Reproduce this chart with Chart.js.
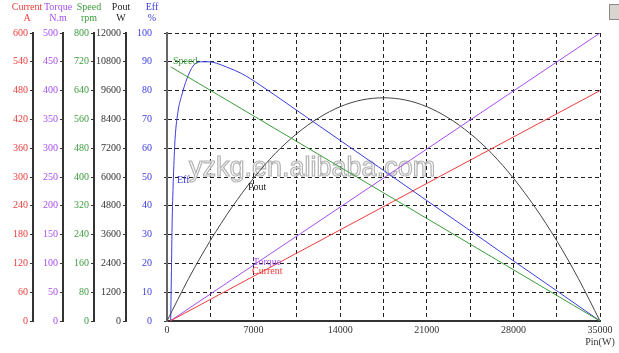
<!DOCTYPE html>
<html>
<head>
<meta charset="utf-8">
<script src="https://cdn.jsdelivr.net/npm/chart.js@4.4.1/dist/chart.umd.min.js"></script>
<style>
  body { margin: 0; background: #fff; }
  #box { width: 619px; height: 353px; position: relative; }
</style>
</head>
<body>
<div id="box"><canvas id="motorChart"></canvas></div>
<script>
// input power (x axis)
const pinMax = 35000;
const pinStep = 3500;

// straight lines: current, torque, speed
const linePin = [250, 35000];
const currentA = [0, 480];
const torqueNm = [0, 500];
const speedPin = [300, 35000];
const speedRpm = [706, 0];

// output power curve
const poutPin = [0, 1750, 3500, 5250, 7000, 8750, 10500, 12250, 14000, 15750, 17500,
    19250, 21000, 22750, 24500, 26250, 28000, 29750, 31500, 33250, 35000];
const poutW = [0, 1770, 3350, 4740, 5950, 6980, 7810, 8460, 8930, 9210, 9300,
    9210, 8930, 8460, 7810, 6980, 5950, 4740, 3350, 1770, 0];

// efficiency curve
const effPin = [300, 350, 420, 520, 650, 900, 1200, 1600, 2100, 2700, 3400, 4000, 4800,
    6000, 7500, 10000, 14000, 17500, 21000, 24500, 28000, 31500, 35000];
const effPct = [0, 15, 35, 50, 63, 73, 78.5, 84, 88.5, 90, 90, 89.5, 88.2,
    86, 82, 74.6, 62.7, 52.3, 41.8, 31.4, 20.9, 10.5, 0];

// y axis ranges (max, step)
const currentAxis = [600, 60];
const torqueAxis = [500, 50];
const speedAxis = [800, 80];
const poutAxis = [12000, 1200];
const effAxis = [100, 10];

const RED = "#ee3b3b", PURPLE = "#a64ef0", GREEN = "#3c9c3c", DARK = "#333333", BLUE = "#3c3ce0";
const SERIF = "'Liberation Serif', 'Times New Roman', serif";

const pts = (xs, ys) => xs.map((x, i) => ({ x: x, y: ys[i] }));

// side axis helper, width fixed so the stacked axes line up
function sideAxis(range, color, width, weight) {
    return {
        type: "linear",
        position: "left",
        weight: weight,
        min: 0,
        max: range[0],
        afterFit: (s) => { s.width = width; },
        ticks: {
            stepSize: range[1],
            color: color,
            padding: 2,
            font: { family: SERIF, size: 10 },
            callback: (v) => String(v),
        },
        grid: { drawOnChartArea: false, tickLength: 3, color: DARK, tickWidth: 1 },
        border: { display: true, color: DARK, width: 2 },
    };
}

const headers = [
    ["yCur", "Current", "A", RED, -6],
    ["yTor", "Torque", "N.m", PURPLE, -5],
    ["ySpd", "Speed", "rpm", GREEN, -5],
    ["yPout", "Pout", "W", "#222", -5],
    ["yEff", "Eff", "%", BLUE, -15],
];

// curve name tags, placed in (Pin, Eff%) coordinates
const tags = [
    ["Speed", 485, 90, GREEN],
    ["Eff", 808, 49, BLUE],
    ["Pout", 6550, 46.5, "#222"],
    ["Torque", 6950, 20.5, PURPLE],
    ["Current", 6870, 17.3, RED],
];

const decor = {
    id: "decor",
    beforeDatasetsDraw(chart) {
        const ctx = chart.ctx;
        ctx.save();
        ctx.font = "27px Arial, 'Liberation Sans', sans-serif";
        ctx.textBaseline = "alphabetic";
        ctx.fillStyle = "rgba(255,255,255,0.8)";
        ctx.strokeStyle = "#b4b4b4";
        ctx.lineWidth = 1.2;
        ctx.fillText("yzkg.en.alibaba.com", 189, 176);
        ctx.strokeText("yzkg.en.alibaba.com", 189, 176);
        ctx.restore();
    },
    afterDraw(chart) {
        const ctx = chart.ctx;
        ctx.save();
        ctx.font = "10px " + SERIF;
        ctx.textAlign = "center";
        ctx.textBaseline = "middle";
        headers.forEach(([id, a, b, color, dx]) => {
            const s = chart.scales[id];
            ctx.fillStyle = color;
            ctx.fillText(a, s.right + dx, 7);
            ctx.fillText(b, s.right + dx, 18);
        });
        ctx.fillStyle = DARK;
        ctx.fillText("Pin(W)", 600, 342);

        const xs = chart.scales.x, ys = chart.scales.yEff;
        ctx.textAlign = "left";
        tags.forEach(([t, px, py, color]) => {
            ctx.fillStyle = color;
            ctx.fillText(t, xs.getPixelForValue(px), ys.getPixelForValue(py));
        });

        // little window button in the corner
        ctx.fillStyle = "#d8d5ce";
        ctx.strokeStyle = "#8a8a8a";
        ctx.fillRect(609, 4, 11, 15);
        ctx.strokeRect(609.5, 4.5, 11, 15);
        ctx.restore();
    },
};

const gridDash = [4, 3];

new Chart(document.getElementById("motorChart"), {
    type: "line",
    data: {
        datasets: [
            { label: "Current", data: pts(linePin, currentA), yAxisID: "yCur", borderColor: RED },
            { label: "Torque", data: pts(linePin, torqueNm), yAxisID: "yTor", borderColor: PURPLE },
            { label: "Speed", data: pts(speedPin, speedRpm), yAxisID: "ySpd", borderColor: GREEN },
            { label: "Pout", data: pts(poutPin, poutW), yAxisID: "yPout", borderColor: "#444", cubicInterpolationMode: "monotone" },
            { label: "Eff", data: pts(effPin, effPct), yAxisID: "yEff", borderColor: BLUE, cubicInterpolationMode: "monotone" },
        ],
    },
    options: {
        responsive: true,
        maintainAspectRatio: false,
        animation: false,
        layout: { padding: { left: 0, right: 19, top: 33, bottom: 0 } },
        elements: { point: { radius: 0 }, line: { borderWidth: 1, fill: false } },
        plugins: { legend: { display: false }, tooltip: { enabled: false } },
        scales: {
            x: {
                type: "linear",
                min: 0,
                max: pinMax,
                afterFit: (s) => { s.height = 32; },
                ticks: {
                    stepSize: pinStep,
                    autoSkip: false,
                    maxRotation: 0,
                    color: DARK,
                    padding: 3,
                    font: { family: SERIF, size: 10 },
                    callback: (v) => (v % 7000 === 0 ? String(v) : ""),
                },
                grid: {
                    drawTicks: false,
                    color: (c) => (c.tick && c.tick.value === 0 ? "rgba(0,0,0,0)" : "#222"),
                },
                border: { color: DARK, width: 2, dash: gridDash },
            },
            yCur: sideAxis(currentAxis, RED, 33, 5),
            yTor: sideAxis(torqueAxis, PURPLE, 30, 4),
            ySpd: sideAxis(speedAxis, GREEN, 31, 3),
            yPout: sideAxis(poutAxis, "#333", 32, 2),
            yEff: {
                type: "linear",
                position: "left",
                weight: 1,
                min: 0,
                max: effAxis[0],
                afterFit: (s) => { s.width = 41; },
                ticks: { stepSize: effAxis[1], color: BLUE, padding: 12, font: { family: SERIF, size: 10 } },
                grid: {
                    tickLength: 3,
                    color: (c) => (c.tick && c.tick.value === 0 ? "rgba(0,0,0,0)" : "#222"),
                    tickColor: DARK,
                    tickBorderDash: [],
                },
                border: { color: "#666", width: 2, dash: gridDash },
            },
        },
    },
    plugins: [decor],
});
</script>
</body>
</html>
